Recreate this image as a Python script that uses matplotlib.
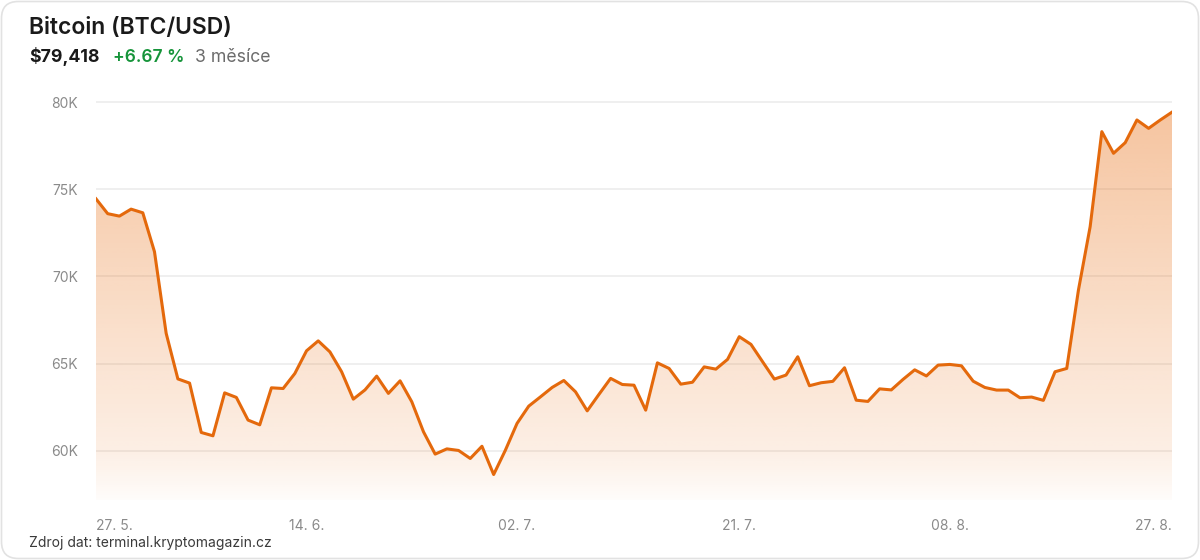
import numpy as np
import pandas as pd
import matplotlib
matplotlib.use("Agg")
import matplotlib.pyplot as plt
from matplotlib.patches import FancyBboxPatch

plt.rcParams['font.family'] = ['Inter', 'DejaVu Sans']

# ---- data ----
title = "Bitcoin (BTC/USD)"
price_label = "$79,418"
change_label = "+6.67 %"
period_label = "3 měsíce"
source_label = "Zdroj dat: terminal.kryptomagazin.cz"

start_date = "2024-05-27"
prices_k = [
    74.45, 73.60, 73.46, 73.86, 73.65, 71.42, 66.74, 64.13, 63.89, 61.06,
    60.87, 63.33, 63.07, 61.77, 61.50, 63.62, 63.58, 64.44, 65.74, 66.31,
    65.68, 64.54, 62.97, 63.50, 64.29, 63.30, 64.02, 62.82, 61.10, 59.82,
    60.12, 60.03, 59.57, 60.27, 58.65, 60.04, 61.58, 62.57, 63.10, 63.64,
    64.04, 63.39, 62.30, 63.24, 64.16, 63.81, 63.77, 62.34, 65.05, 64.73,
    63.83, 63.94, 64.82, 64.69, 65.25, 66.55, 66.11, 65.11, 64.12, 64.35,
    65.40, 63.74, 63.91, 63.99, 64.77, 62.91, 62.84, 63.56, 63.50, 64.10,
    64.65, 64.30, 64.92, 64.96, 64.88, 64.00, 63.64, 63.49, 63.49, 63.05,
    63.09, 62.90, 64.54, 64.73, 69.22, 72.85, 78.30, 77.06, 77.67, 78.97,
    78.49, 78.97, 79.418,
]
tick_dates = ["2024-05-27", "2024-06-14", "2024-07-02", "2024-07-21", "2024-08-08", "2024-08-27"]
tick_labels = ["27. 5.", "14. 6.", "02. 7.", "21. 7.", "08. 8.", "27. 8."]
y_ticks = [60, 65, 70, 75, 80]

# ---- build ----
dates = pd.date_range(start_date, periods=len(prices_k), freq="D")
x = np.arange(len(prices_k))
y = np.array(prices_k)
tick_idx = [int(np.where(dates == pd.Timestamp(d))[0][0]) for d in tick_dates]

W, H = 1200, 560
fig = plt.figure(figsize=(W / 100, H / 100), dpi=100)
fig.patch.set_facecolor("white")

# card border
card = FancyBboxPatch((1.5 / W, 1.5 / H), (W - 3) / W, (H - 3) / H,
                      boxstyle="round,pad=0,rounding_size=0.014",
                      transform=fig.transFigure, facecolor="none",
                      edgecolor="#e2e2e2", linewidth=1.2, mutation_aspect=W / H, zorder=-5)
fig.patches.append(card)

ylo, yhi = 57.2, 80.2
left_px, right_px = 96, 1172
top_px = 102 - (yhi - 80) * 17.44
bot_px = 451 + (60 - ylo) * 17.44
ax = fig.add_axes([left_px / W, (H - bot_px) / H, (right_px - left_px) / W, (bot_px - top_px) / H])
ax.set_facecolor("none")
ax.set_xlim(x[0], x[-1])
ax.set_ylim(ylo, yhi)

# gridlines
for v in y_ticks:
    ax.axhline(v, color="#ececec", lw=1.2, zorder=0)

# gradient fill
orange = np.array([232, 106, 12]) / 255
ys = np.linspace(yhi, ylo, 400)
alpha = np.interp(ys, [ylo, 60, 80], [0.02, 0.11, 0.40])
img = np.zeros((len(ys), 2, 4))
img[..., :3] = orange
img[..., 3] = alpha[:, None]
poly = ax.fill_between(x, y, ylo, color="none", lw=0)
im = ax.imshow(img, extent=[x[0], x[-1], ylo, yhi], aspect="auto", origin="upper",
               zorder=1, interpolation="bilinear")
im.set_clip_path(poly.get_paths()[0], transform=ax.transData)

ax.plot(x, y, color="#e4690c", lw=2.2, zorder=3)

for s in ax.spines.values():
    s.set_visible(False)
ax.tick_params(length=0)
ax.set_yticks(y_ticks)
ax.set_yticklabels([f"{v}K" for v in y_ticks], color="#8a8a8a", fontsize=10)
ax.tick_params(axis="y", pad=13)
ax.set_xticks(tick_idx)
ax.set_xticklabels(tick_labels, color="#8a8a8a", fontsize=10)
ax.tick_params(axis="x", pad=14)
xl = ax.get_xticklabels()
xl[0].set_ha("left")
xl[-1].set_ha("right")

# header
fig.text(29 / W, 1 - 28 / H, title, fontsize=16.5, fontweight="semibold", color="#1a1a1a", va="center", ha="left")
fig.text(29 / W, 1 - 57 / H, price_label, fontsize=12.8, fontweight="bold", color="#1a1a1a", va="center", ha="left")
fig.text(113 / W, 1 - 57 / H, change_label, fontsize=12.5, fontweight="semibold", color="#16943a", va="center", ha="left")
fig.text(195 / W, 1 - 57 / H, period_label, fontsize=12.7, color="#6b6b6b", va="center", ha="left")
fig.text(29 / W, 1 - 543 / H, source_label, fontsize=10, color="#3a3a3a", va="center", ha="left")

fig.savefig("out.png", dpi=100, facecolor="white")
